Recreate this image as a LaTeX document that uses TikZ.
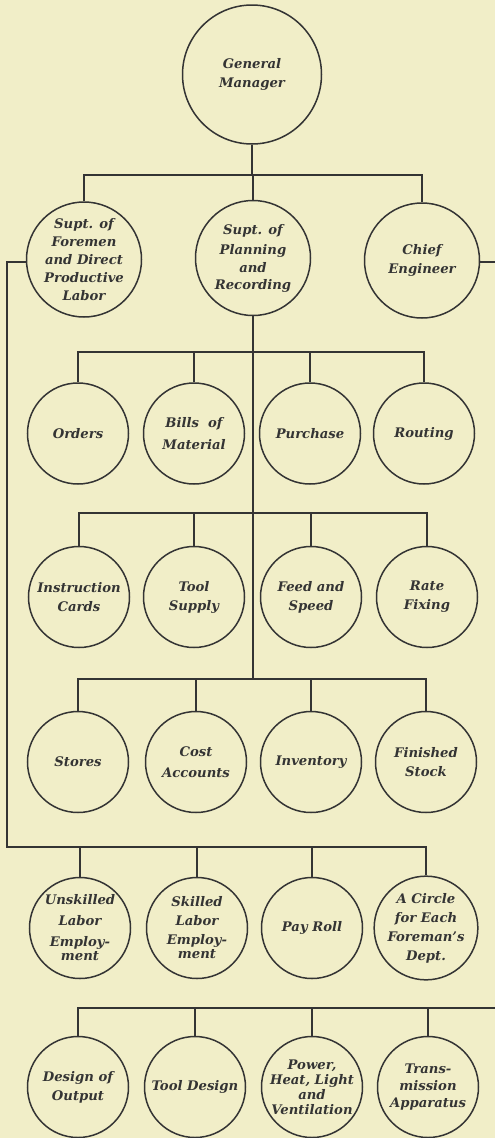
\documentclass[tikz,border=0pt]{standalone}
\usepackage{fontspec}
\setmainfont{DejaVu Serif}
\definecolor{paper}{RGB}{241,238,200}
\definecolor{ink}{RGB}{52,52,52}
\begin{document}
\begin{tikzpicture}[x=1pt,y=-1pt,
  unit/.style={circle,draw=ink,line width=1.5pt,inner sep=0pt,align=center,text=ink,
    font=\fontsize{13.2}{19}\selectfont\bfseries\itshape},
  big/.style={unit,minimum size=139pt},
  mid/.style={unit,minimum size=115pt},
  small/.style={unit,minimum size=101pt},
  wire/.style={draw=ink,line width=2pt}]
\fill[paper] (0,0) rectangle (495,1138);
\useasboundingbox (0,0) rectangle (495,1138);
% level 1
\node[big] (gm) at (252,74.5) {General\\Manager};
% level 2
\node[mid] (fore) at (84,259.5) {Supt. of\\[-1pt]Foremen\\[-1pt]and Direct\\[-1pt]Productive\\[-1pt]Labor};
\node[mid] (plan) at (253,258) {Supt. of\\[1pt]Planning\\[-1pt]and\\[-2pt]Recording};
\node[mid] (chief) at (422,260.5) {Chief\\Engineer};
% level 3
\node[small] (orders) at (78,433.5) {Orders};
\node[small] (bills) at (194,433.5) {Bills \ of\\[3pt]Material};
\node[small] (purch) at (310,433.5) {Purchase};
\node[small] (rout) at (424,433.5) {Routing};
% level 4
\node[small] (instr) at (79,597) {Instruction\\Cards};
\node[small] (tools) at (194,597) {Tool\\Supply};
\node[small] (feed) at (311,597) {Feed and\\Speed};
\node[small] (rate) at (427,597) {Rate\\Fixing};
% level 5
\node[small] (stores) at (78,762) {Stores};
\node[small] (cost) at (196,762) {Cost\\[2pt]Accounts};
\node[small] (inv) at (311,762) {Inventory};
\node[small] (fin) at (426,762) {Finished\\Stock};
% level 6
\node[small] (unsk) at (80,928) {Unskilled\\[2pt]Labor\\[2pt]Employ-\\[-5pt]ment};
\node[small] (skil) at (197,928) {Skilled\\Labor\\Employ-\\[-5pt]ment};
\node[small] (pay) at (312,928) {Pay Roll};
\node[small] (each) at (426,928) {A Circle\\for Each\\Foreman's\\Dept.};
% level 7
\node[small] (des) at (78,1087) {Design of\\Output};
\node[small] (tdes) at (195,1087) {Tool Design};
\node[small] (pow) at (312,1087) {Power,\\[-4pt]Heat, Light\\[-4pt]and\\[-4pt]Ventilation};
\node[small] (trans) at (428,1087) {Trans-\\[-2pt]mission\\[-2pt]Apparatus};
% bar levels
\coordinate (y2) at (0,175);
\coordinate (y3) at (0,352);
\coordinate (y4) at (0,513);
\coordinate (y5) at (0,679);
\coordinate (l6) at (7,847);
\coordinate (r2) at (495,262);
\coordinate (r7) at (495,1008);
% level 1 -> 2
\draw[wire] (gm.south) -- (gm.south |- y2);
\draw[wire] (fore.north) |- (chief.north |- y2) -- (chief.north);
\draw[wire] (plan.north) -- (plan.north |- y2);
% planning stem
\draw[wire] (plan.south) -- (plan.south |- y5);
% level 3
\draw[wire] (orders.north) |- (rout.north |- y3) -- (rout.north);
\draw[wire] (bills.north) -- (bills.north |- y3);
\draw[wire] (purch.north) -- (purch.north |- y3);
% level 4
\draw[wire] (instr.north) |- (rate.north |- y4) -- (rate.north);
\draw[wire] (tools.north) -- (tools.north |- y4);
\draw[wire] (feed.north) -- (feed.north |- y4);
% level 5
\draw[wire] (stores.north) |- (fin.north |- y5) -- (fin.north);
\draw[wire] (cost.north) -- (cost.north |- y5);
\draw[wire] (inv.north) -- (inv.north |- y5);
% foremen branch
\draw[wire] (fore.west |- r2) -| (l6) -| (each.north);
\draw[wire] (unsk.north) -- (unsk.north |- l6);
\draw[wire] (skil.north) -- (skil.north |- l6);
\draw[wire] (pay.north) -- (pay.north |- l6);
% chief engineer branch
\draw[wire] (chief.east |- r2) -- (r2);
\draw[wire] (r7) -| (des.north);
\draw[wire] (tdes.north) -- (tdes.north |- r7);
\draw[wire] (pow.north) -- (pow.north |- r7);
\draw[wire] (trans.north) -- (trans.north |- r7);
\end{tikzpicture}
\end{document}
